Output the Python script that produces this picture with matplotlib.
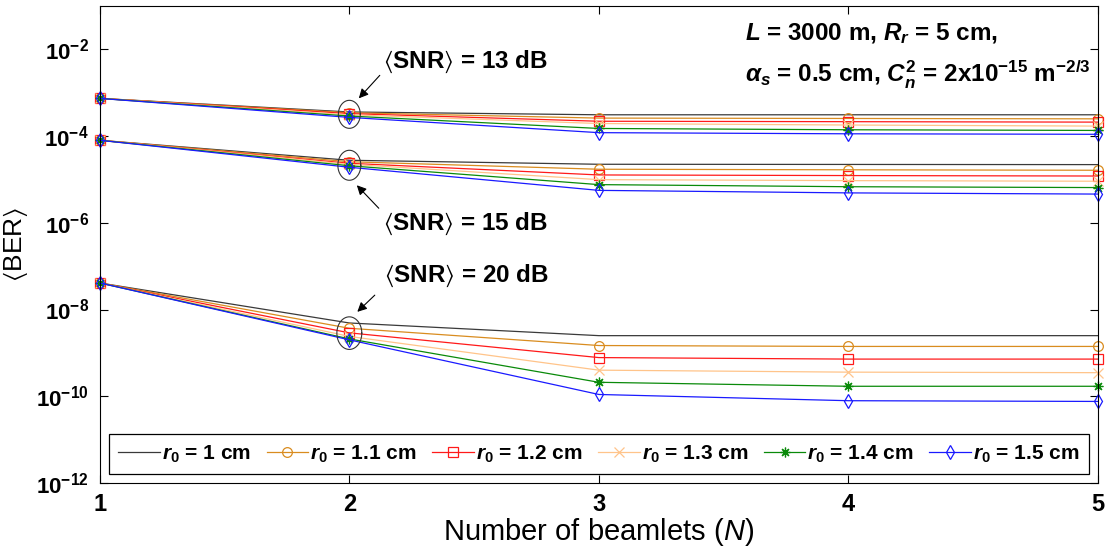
import numpy as np
import matplotlib
matplotlib.use("Agg")
import matplotlib.pyplot as plt

plt.rcParams['font.family'] = ['Liberation Sans', 'DejaVu Sans']
plt.rcParams['mathtext.fontset'] = 'custom'
plt.rcParams['mathtext.rm'] = 'Liberation Sans:bold'
plt.rcParams['mathtext.bf'] = 'Liberation Sans:bold'
plt.rcParams['mathtext.it'] = 'Liberation Sans:bold:italic'
plt.rcParams['mathtext.sf'] = 'Liberation Sans:italic'
plt.rcParams['mathtext.fallback'] = 'stixsans'

# veriler
n_beamlets = [1, 2, 3, 4, 5]
r0_cm = ['1', '1.1', '1.2', '1.3', '1.4', '1.5']

ber_13db = [
    [7.4e-4, 3.6e-4, 3.1e-4, 3.1e-4, 3.1e-4],
    [7.4e-4, 3.45e-4, 2.6e-4, 2.55e-4, 2.5e-4],
    [7.4e-4, 3.3e-4, 2.2e-4, 2.15e-4, 2.1e-4],
    [7.4e-4, 3.1e-4, 1.95e-4, 1.8e-4, 1.7e-4],
    [7.4e-4, 2.9e-4, 1.5e-4, 1.4e-4, 1.35e-4],
    [7.4e-4, 2.7e-4, 1.2e-4, 1.13e-4, 1.1e-4],
]
ber_15db = [
    [8.0e-5, 2.77e-5, 2.24e-5, 2.22e-5, 2.2e-5],
    [8.0e-5, 2.56e-5, 1.72e-5, 1.67e-5, 1.63e-5],
    [8.0e-5, 2.36e-5, 1.27e-5, 1.23e-5, 1.2e-5],
    [8.0e-5, 2.24e-5, 9.9e-6, 9.4e-6, 9.1e-6],
    [8.0e-5, 2.07e-5, 7.6e-6, 6.8e-6, 6.5e-6],
    [8.0e-5, 1.91e-5, 5.6e-6, 4.9e-6, 4.6e-6],
]
ber_20db = [
    [4.1e-8, 4.9e-9, 2.5e-9, 2.5e-9, 2.5e-9],
    [4.1e-8, 3.7e-9, 1.48e-9, 1.41e-9, 1.41e-9],
    [4.1e-8, 2.9e-9, 7.8e-10, 7.2e-10, 7.2e-10],
    [4.1e-8, 2.4e-9, 4.0e-10, 3.6e-10, 3.5e-10],
    [4.1e-8, 2.1e-9, 2.1e-10, 1.7e-10, 1.7e-10],
    [4.1e-8, 2.0e-9, 1.1e-10, 7.9e-11, 7.6e-11],
]

snr_labels = ['13', '15', '20']
ytick_vals = [1e-12, 1e-10, 1e-8, 1e-6, 1e-4, 1e-2]
ytick_labels = [r'$10^{\mathrm{-12}}$', r'$10^{\mathrm{-10}}$', r'$10^{\mathrm{-8}}$',
                r'$10^{\mathrm{-6}}$', r'$10^{\mathrm{-4}}$', r'$10^{\mathrm{-2}}$']

# stiller
colors = ['#3a3a3a', '#D98C1F', '#FF1A1A', '#FFC48A', '#0A8A0A', '#1A1AFF']
markers = [None, 'o', 's', 'x', (8, 2, 0), 'd']

fig = plt.figure(figsize=(11.09, 5.46), dpi=100)
ax = fig.add_axes([0.090, 0.1154, 0.900, 0.8736])

for group in (ber_13db, ber_15db, ber_20db):
    for i, vals in enumerate(group):
        ax.plot(n_beamlets, vals, color=colors[i], marker=markers[i], ms=7,
                mfc='none', mew=0.9, lw=0.9, clip_on=False,
                label=r'$\mathit{r_0}$ = %s cm' % r0_cm[i] if group is ber_13db else None)

ax.set_yscale('log')
ax.set_xlim(1, 5)
ax.set_ylim(1e-12, 1e-1)
ax.set_xticks(n_beamlets)
ax.set_xticklabels([str(n) for n in n_beamlets], fontweight='bold')
ax.set_yticks(ytick_vals)
ax.set_yticklabels(ytick_labels)
ax.minorticks_off()
ax.tick_params(direction='in', length=6, width=0.8, top=True, right=True)
ax.tick_params(axis='x', pad=7, labelsize=17)
ax.tick_params(axis='y', pad=8, labelsize=16)
for sp in ax.spines.values():
    sp.set_linewidth(0.8)

ax.set_xlabel(r'Number of beamlets ($\mathsf{N}$)', fontsize=21, labelpad=0)
ax.set_ylabel(r'$\langle$BER$\rangle$', fontsize=19, labelpad=4)

# SNR etiketleri, oklar ve elipsler
ell_centers = [-3.498, -4.673, -8.544]
ell_half_h = [0.323, 0.346, 0.376]
ell_half_w = [0.044, 0.046, 0.05]
t = np.linspace(0, 2 * np.pi, 200)
for c, hh, hw in zip(ell_centers, ell_half_h, ell_half_w):
    ax.plot(2 + hw * np.cos(t), 10 ** (c + hh * np.sin(t)), color='#333333', lw=0.8)

text_pos = [(2.134, 10 ** -2.438), (2.134, 10 ** -6.17), (2.138, 10 ** -7.36)]
arrow_start = [(2.122, 10 ** -2.599), (2.118, 10 ** -5.664), (2.102, 10 ** -7.668)]
arrow_tip = [(2.038, 10 ** -3.129), (2.030, 10 ** -5.134), (2.032, 10 ** -8.053)]
for lab, tp, a0, a1 in zip(snr_labels, text_pos, arrow_start, arrow_tip):
    ax.text(tp[0], tp[1], r'$\langle$SNR$\rangle$ = %s dB' % lab, fontsize=17.5,
            fontweight='bold', ha='left', va='baseline')
    ax.annotate('', xy=a1, xytext=a0,
                arrowprops=dict(arrowstyle='-|>', color='black', lw=0.8,
                                mutation_scale=14, shrinkA=0, shrinkB=0))

ax.text(0.646, 0.929, r'$\mathit{L}$ = 3000 m, $\mathit{R_r}$ = 5 cm,',
        transform=ax.transAxes, fontsize=17.5, fontweight='bold', va='baseline')
ax.text(0.646, 0.8386,
        r'$\mathit{\alpha_s}$ = 0.5 cm, $\mathit{C_n^2}$ = 2x10$^{\mathrm{-15}}$ m$^{\mathrm{-2/3}}$',
        transform=ax.transAxes, fontsize=17.5, fontweight='bold', va='baseline')

leg = ax.legend(loc='lower left', bbox_to_anchor=(0.005, 0.01, 0.99, 0.1), mode='expand',
                ncol=6, fancybox=False, edgecolor='black', framealpha=1,
                prop={'weight': 'bold', 'size': 15}, handlelength=2.0,
                handletextpad=0.1, columnspacing=0.4, borderaxespad=0.2,
                borderpad=0.45)
leg.get_frame().set_linewidth(0.9)

fig.savefig('out.png', dpi=100)
